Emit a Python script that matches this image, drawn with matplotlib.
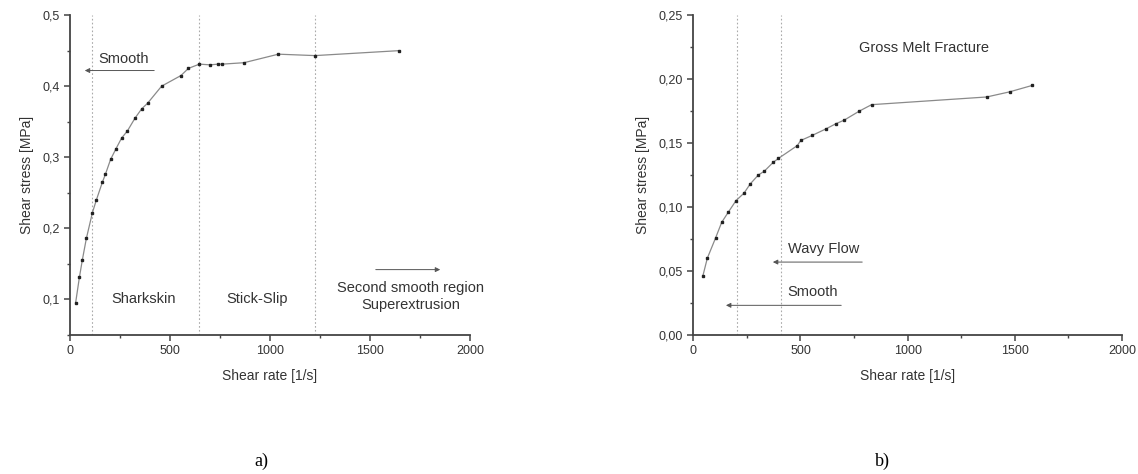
import matplotlib
matplotlib.use("Agg")
import matplotlib.pyplot as plt
from matplotlib.ticker import MultipleLocator, FuncFormatter

# ── Data ─────────────────────────────────────────────────────────
rate_a = [28, 47, 62, 82, 112, 132, 162, 177, 203, 230, 258, 287, 325, 358,
          388, 458, 555, 592, 647, 700, 742, 762, 870, 1042, 1225, 1647]
stress_a = [0.095, 0.131, 0.156, 0.186, 0.222, 0.240, 0.265, 0.276, 0.297,
            0.312, 0.327, 0.337, 0.355, 0.368, 0.376, 0.400, 0.415, 0.425,
            0.431, 0.430, 0.431, 0.431, 0.433, 0.445, 0.443, 0.450]
bounds_a = [110, 645, 1225]

rate_b = [44, 65, 104, 132, 163, 199, 237, 265, 303, 331, 373, 397, 485, 501,
          555, 618, 664, 705, 775, 832, 1369, 1476, 1581]
stress_b = [0.046, 0.060, 0.076, 0.088, 0.096, 0.105, 0.111, 0.118, 0.125,
            0.128, 0.135, 0.138, 0.148, 0.152, 0.156, 0.161, 0.165, 0.168,
            0.175, 0.180, 0.186, 0.190, 0.195]
bounds_b = [202, 409]

plt.rcParams["font.family"] = ["Liberation Sans", "DejaVu Sans"]

fig = plt.figure(figsize=(11.38, 4.74), dpi=100)
ax1 = fig.add_axes([0.0615, 0.2932, 0.3515, 0.675])
ax2 = fig.add_axes([0.6093, 0.2932, 0.3765, 0.675])

comma = FuncFormatter(lambda v, p: f"{v:.1f}".replace(".", ","))
comma2 = FuncFormatter(lambda v, p: f"{v:.2f}".replace(".", ","))


def style(ax, ymin, ymax, ymaj, fmt):
    ax.set_xlim(0, 2000)
    ax.set_ylim(ymin, ymax)
    ax.xaxis.set_major_locator(MultipleLocator(500))
    ax.xaxis.set_minor_locator(MultipleLocator(250))
    ax.yaxis.set_major_locator(MultipleLocator(ymaj))
    ax.yaxis.set_minor_locator(MultipleLocator(ymaj / 2))
    ax.yaxis.set_major_formatter(fmt)
    for s in ("top", "right"):
        ax.spines[s].set_visible(False)
    for s in ("left", "bottom"):
        ax.spines[s].set_color("#444444")
        ax.spines[s].set_linewidth(1.3)
    ax.tick_params(which="major", direction="out", length=4, width=1.1,
                   colors="#444444", labelsize=9, labelcolor="#333333")
    ax.tick_params(which="minor", direction="out", length=2.5, width=1.0,
                   colors="#444444")
    ax.set_xlabel("Shear rate [1/s]", fontsize=10, color="#333333", labelpad=8)
    ax.set_ylabel("Shear stress [MPa]", fontsize=10, color="#333333", labelpad=6)


arrow = dict(arrowstyle="-|>", color="#555555", lw=0.7, mutation_scale=7)

# ── a) ──────────────────────────────────────────────────────────
style(ax1, 0.05, 0.5, 0.1, comma)
for b in bounds_a:
    ax1.axvline(b, color="#aaaaaa", ls=(0, (1.5, 2)), lw=0.8)
ax1.plot(rate_a, stress_a, color="#8a8a8a", lw=0.9, marker="s", ms=1.5,
         mfc="#222222", mec="#222222")
ax1.annotate("", xy=(60, 0.422), xytext=(435, 0.422), arrowprops=arrow)
ax1.text(142, 0.438, "Smooth", fontsize=10.5, color="#333333", va="center")
ax1.text(368, 0.101, "Sharkskin", fontsize=10.5, color="#333333",
         ha="center", va="center")
ax1.text(937, 0.101, "Stick-Slip", fontsize=10.5, color="#333333",
         ha="center", va="center")
ax1.annotate("", xy=(1865, 0.142), xytext=(1515, 0.142), arrowprops=arrow)
ax1.text(1704, 0.104, "Second smooth region\nSuperextrusion", fontsize=10.5,
         color="#333333", ha="center", va="center", linespacing=1.3)

# ── b) ──────────────────────────────────────────────────────────
style(ax2, 0.0, 0.25, 0.05, comma2)
for b in bounds_b:
    ax2.axvline(b, color="#aaaaaa", ls=(0, (1.5, 2)), lw=0.8)
ax2.plot(rate_b, stress_b, color="#8a8a8a", lw=0.9, marker="s", ms=1.5,
         mfc="#222222", mec="#222222")
ax2.text(1076, 0.224, "Gross Melt Fracture", fontsize=10.5, color="#333333",
         ha="center", va="center")
ax2.text(440, 0.067, "Wavy Flow", fontsize=10.5, color="#333333", va="center")
ax2.annotate("", xy=(358, 0.057), xytext=(801, 0.057), arrowprops=arrow)
ax2.text(437, 0.034, "Smooth", fontsize=10.5, color="#333333", va="center")
ax2.annotate("", xy=(139, 0.0232), xytext=(703, 0.0232), arrowprops=arrow)

fig.text(261 / 1138, 1 - 461 / 474, "a)", family="Liberation Serif",
         fontsize=13, ha="center", va="center")
fig.text(882 / 1138, 1 - 461 / 474, "b)", family="Liberation Serif",
         fontsize=13, ha="center", va="center")

fig.savefig("out.png", dpi=100)
